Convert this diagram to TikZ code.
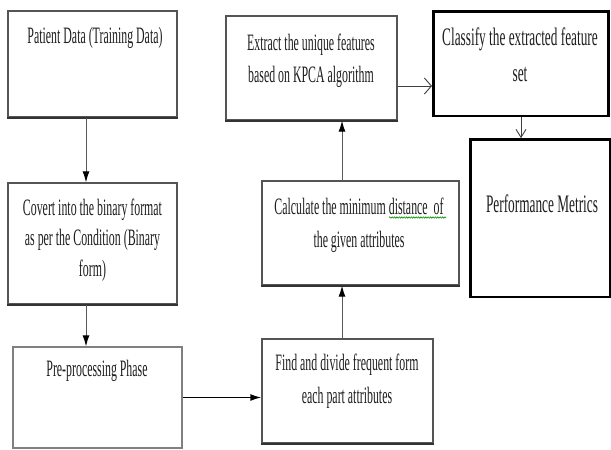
\documentclass[tikz,border=0pt]{standalone}
\usepackage{fontspec}
\setmainfont{Liberation Serif}[FakeStretch=0.505]
\newfontfamily\bigfont{Liberation Serif}[FakeStretch=0.528]
\usetikzlibrary{arrows.meta,calc,decorations.pathmorphing}
\definecolor{boxgray}{HTML}{555555}
\definecolor{txt}{HTML}{1E1E1E}
\tikzset{
  stepbox/.style={draw=boxgray, line width=1.3pt, rectangle, inner sep=0pt, fill=white},
  heavybox/.style={draw=black, line width=2.6pt, rectangle, inner sep=0pt, fill=white},
  botline/.style={draw=black!80, line width=2pt},
  lbl/.style={anchor=base, align=center, inner sep=0pt, text=txt,
    font=\fontsize{23.5}{32}\selectfont},
  biglbl/.style={anchor=base, align=center, inner sep=0pt, text=txt,
    font=\bigfont\fontsize{25.2}{36.5}\selectfont},
  arr/.style={draw=black!65, line width=1pt, -{Latex[length=11pt,width=7pt,color=black]}},
  openarr/.style={draw=black!75, line width=0.9pt, -{Straight Barb[length=7pt,width=16pt,line width=0.9pt]}},
  openarrb/.style={draw=black!75, line width=0.9pt, -{Straight Barb[length=8pt,width=10pt,line width=0.9pt]}},
}
\begin{document}
\begin{tikzpicture}[x=1pt,y=-1pt]
\useasboundingbox (0,0) rectangle (611,450);
\fill[white] (0,0) rectangle (611,450);

% boxes
\node[stepbox, minimum width=169pt, minimum height=106pt] (b1) at (92.5,64) {};
\node[stepbox, minimum width=169pt, minimum height=121pt] (b2) at (92.5,243.5) {};
\node[stepbox, draw=black!50, minimum width=169pt, minimum height=101pt] (b3) at (97.5,397.5) {};
\node[stepbox, minimum width=171pt, minimum height=104pt] (b4) at (347.5,391) {};
\node[stepbox, minimum width=197pt, minimum height=104pt] (b5) at (360.5,233) {};
\node[stepbox, minimum width=171pt, minimum height=104pt] (b6) at (311.5,68) {};
\node[heavybox, minimum width=175.4pt, minimum height=104.5pt] (b7) at (521,63.75) {};
\node[heavybox, minimum width=139.5pt, minimum height=157.5pt] (b8) at (540.25,218.25) {};

% darker bottom edges
\draw[botline] (b1.south west) -- (b1.south east);
\draw[botline] (b2.south west) -- (b2.south east);
\draw[botline] (b4.south west) -- (b4.south east);
\draw[botline] (b5.south west) -- (b5.south east);
\draw[botline] (b6.south west) -- (b6.south east);

% labels (base anchor = baseline of the last line)
\node[lbl] (t1) at (95,43) {Patient Data (Training Data)};
\node[lbl, font=\fontsize{23.5}{30.5}\selectfont] (t2) at (92.5,276) {Covert into the binary format\\as per the Condition (Binary\\form)};
\node[lbl] (t3) at (97,376) {Pre-processing Phase};
\node[lbl, font=\fontsize{23.5}{33.5}\selectfont] (t4) at (347,403.5) {Find and divide frequent form\\each part attributes};
\node[lbl, font=\fontsize{23.5}{33}\selectfont] (t5) at (359,247) {Calculate the minimum distance\ \ of\\the given attributes};
\node[lbl] (t6) at (311,82) {Extract the unique features\\based on KPCA algorithm};
\node[biglbl] (t7) at (520,81.5) {Classify the extracted feature\\set};
\node[biglbl] (t8) at (542,212) {Performance Metrics};

% spell-check squiggle
\coordinate (sq1) at (389,217.5);
\coordinate (sq2) at (446,217.5);
\draw[draw=green!55!black, line width=0.6pt, decorate,
      decoration={snake,amplitude=0.7pt,segment length=2.4pt}] (sq1) -- (sq2);

% connectors
\draw[arr] ([xshift=-6.5pt]b1.south) -- ([xshift=-6.5pt]b1.south |- b2.north);
\draw[arr] ([xshift=-6.5pt]b2.south) -- ([xshift=-6.5pt]b2.south |- b3.north);
\draw[arr, draw=black, line width=1.5pt] (b3.east) -- (b3.east -| b4.west);
\draw[arr] ([xshift=-5.5pt]b4.north) -- ([xshift=-5.5pt]b4.north |- b5.south);
\draw[arr] ([xshift=-18.5pt]b5.north) -- ([xshift=-18.5pt]b5.north |- b6.south);
\draw[openarr] ([yshift=-18pt]b6.east) -- ([yshift=-18pt]b6.east -| b7.west);
\draw[openarrb] (b7.south) -- (b7.south |- b8.north);
\end{tikzpicture}
\end{document}
